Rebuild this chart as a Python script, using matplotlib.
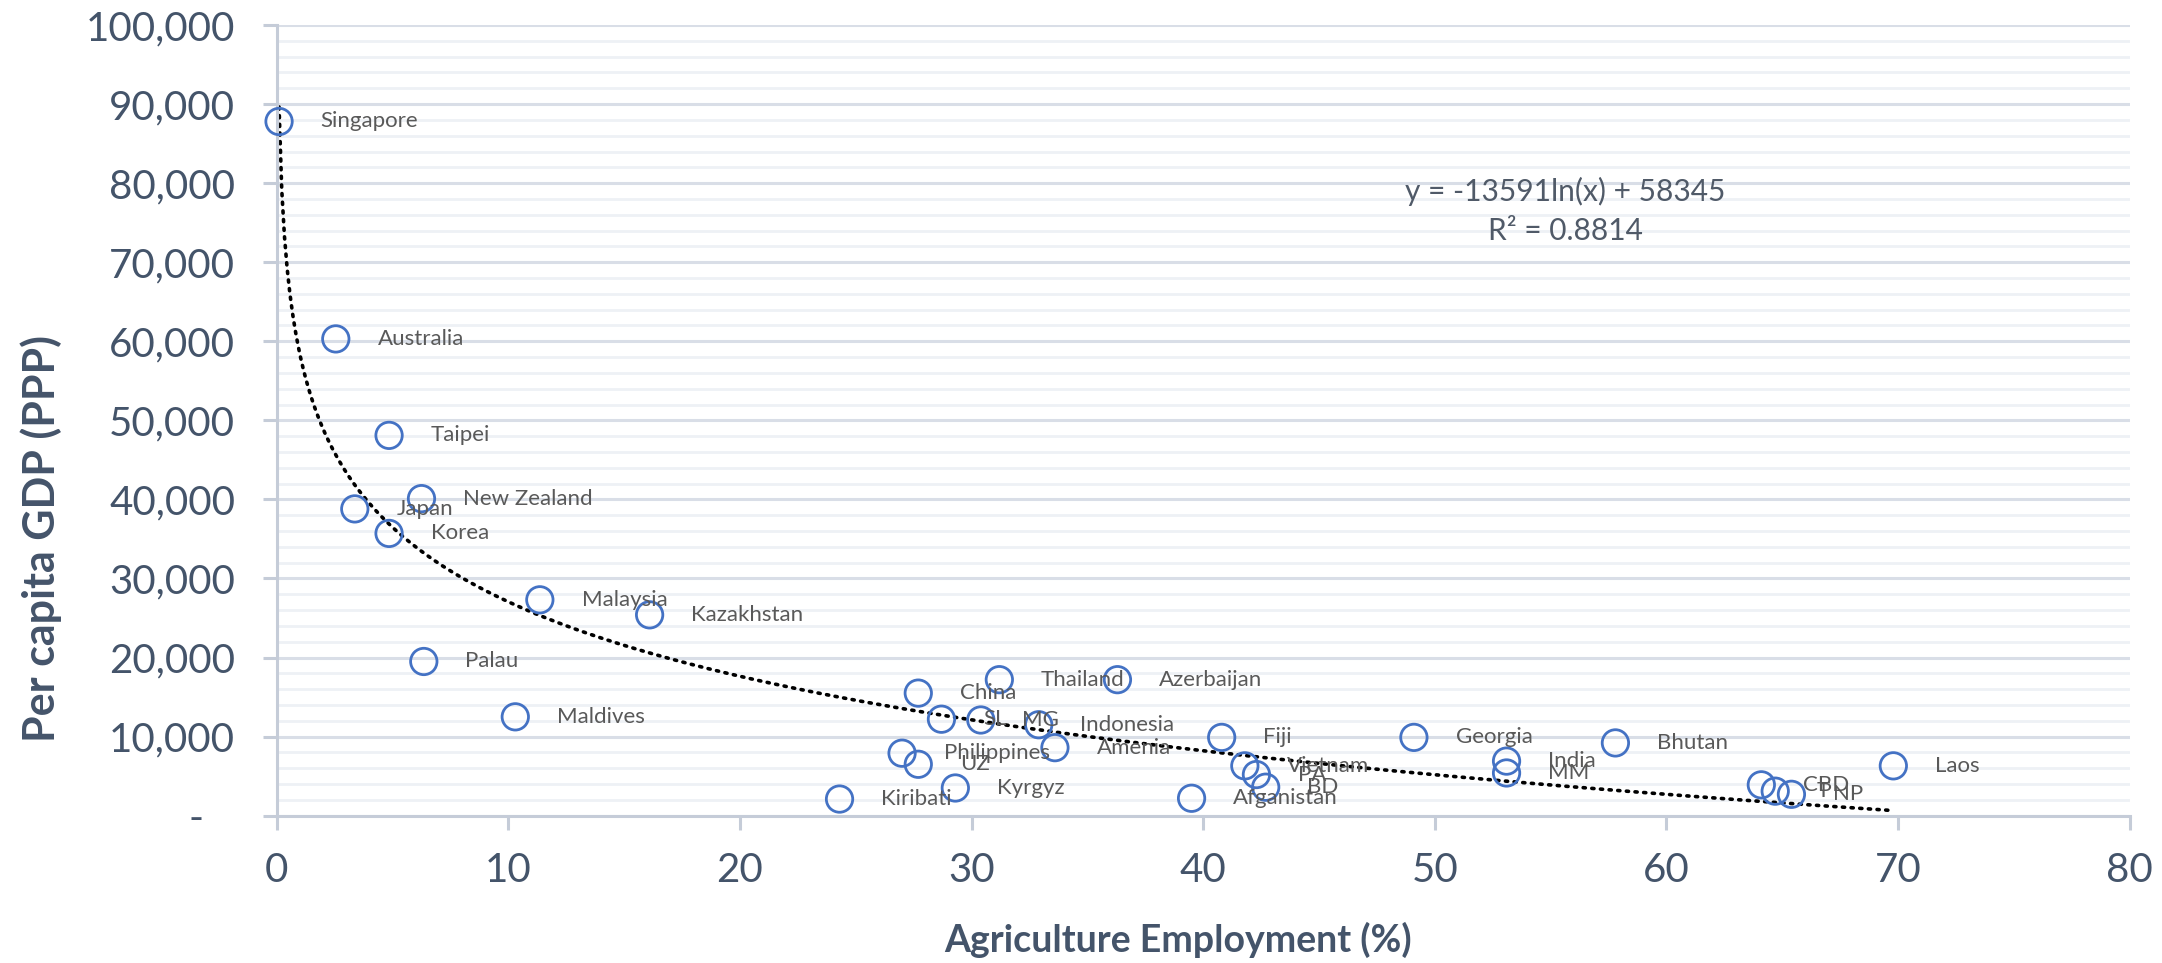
import numpy as np
import matplotlib
matplotlib.use("Agg")
import matplotlib.pyplot as plt
from matplotlib.ticker import MultipleLocator, FuncFormatter

plt.rcParams['font.family'] = ['Lato', 'DejaVu Sans']

# agriculture share of employment (%) vs per capita GDP (PPP)
countries = ["Singapore", "Australia", "Taipei", "New Zealand", "Japan", "Korea",
             "Malaysia", "Kazakhstan", "Palau", "Maldives", "Kiribati", "Philippines",
             "UZ", "China", "SL", "Kyrgyz", "MG", "Thailand", "Indonesia", "Amenia",
             "Azerbaijan", "Afganistan", "Fiji", "Vietnam", "PA", "BD", "Georgia",
             "India", "MM", "Bhutan", "CBD", "T", "NP", "Laos"]
agri = [0.1, 2.55, 4.85, 6.25, 3.37, 4.85,
        11.36, 16.1, 6.35, 10.3, 24.3, 27.0,
        27.7, 27.7, 28.7, 29.3, 30.4, 31.2, 32.9, 33.6,
        36.3, 39.5, 40.8, 41.8, 42.3, 42.7, 49.1,
        53.1, 53.1, 57.8, 64.1, 64.7, 65.4, 69.8]
gdp = [87800, 60300, 48100, 40100, 38800, 35700,
       27300, 25400, 19500, 12500, 2100, 7900,
       6500, 15500, 12200, 3500, 12100, 17200, 11500, 8600,
       17200, 2200, 9900, 6300, 5200, 3600, 9900,
       6900, 5400, 9200, 3900, 3100, 2700, 6300]

# log trendline coefficients
trend_a = -13591
trend_b = 58345
r_squared = 0.8814

x_ticks = [0, 10, 20, 30, 40, 50, 60, 70, 80]

text_col = '#44546A'
label_col = '#595959'
axis_col = '#C5CCD8'

fig = plt.figure(figsize=(21.62, 9.63), dpi=100)
ax = fig.add_axes([0.128, 0.153, 0.857, 0.821])

ax.scatter(agri, gdp, s=19 ** 2, facecolors='none', edgecolors='#4472C4',
           linewidths=2.0, zorder=3, clip_on=False)

for name, x, y in zip(countries, agri, gdp):
    ax.annotate(name, (x, y), xytext=(30, 0), textcoords='offset points',
                ha='left', va='center', fontsize=16, color=label_col, zorder=4)

xt = np.linspace(min(agri), max(agri), 600)
ax.plot(xt, trend_a * np.log(xt) + trend_b, color='black', lw=2.6,
        linestyle=(0, (0.6, 1.8)), dash_capstyle='round', zorder=2, clip_on=False)

ax.text(55.65, 79000, 'y = %dln(x) + %d' % (trend_a, trend_b), ha='center', va='center',
        fontsize=21.5, color='#505A68')
ax.text(55.65, 73900, 'R² = %.4f' % r_squared, ha='center', va='center',
        fontsize=21.5, color='#505A68')

ax.set_xlim(0, 80)
ax.set_ylim(0, 100000)
ax.set_xticks(x_ticks)
ax.yaxis.set_major_locator(MultipleLocator(10000))
ax.yaxis.set_minor_locator(MultipleLocator(2000))
ax.yaxis.set_major_formatter(FuncFormatter(lambda v, p: '-   ' if v == 0 else '{:,.0f}'.format(v)))

ax.grid(which='major', axis='y', color='#D9DEE7', lw=2.2, zorder=0)
ax.grid(which='minor', axis='y', color='#EEF1F5', lw=2.0, zorder=0)
ax.set_axisbelow(True)

for s in ['top', 'right']:
    ax.spines[s].set_visible(False)
for s in ['left', 'bottom']:
    ax.spines[s].set_color(axis_col)
    ax.spines[s].set_linewidth(2.2)

ax.tick_params(axis='both', which='major', direction='out', length=10, width=2.2,
               color=axis_col, labelcolor=text_col, labelsize=29)
ax.tick_params(axis='y', which='major', pad=20)
ax.tick_params(axis='x', which='major', pad=16)
ax.tick_params(which='minor', length=0)

fig.text(0.545, 0.024, 'Agriculture Employment (%)', ha='center', va='center',
         fontsize=27, fontweight='bold', color=text_col)
fig.text(0.019, 0.441, 'Per capita GDP (PPP)', ha='center', va='center',
         rotation=90, fontsize=31, fontweight='bold', color=text_col)

fig.savefig('out.png', dpi=100, facecolor='white')
